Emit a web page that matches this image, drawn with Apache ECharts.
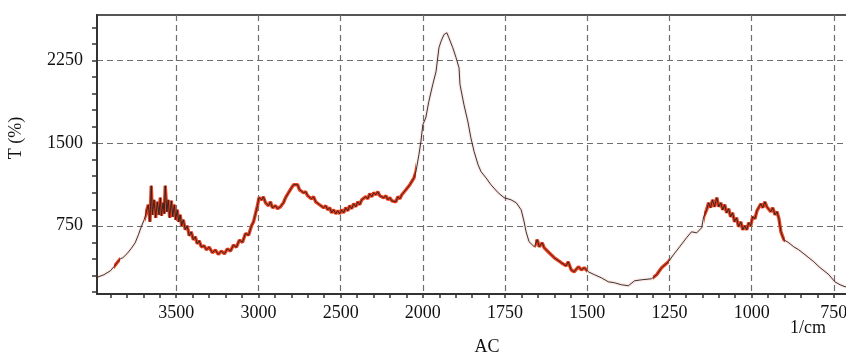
<!DOCTYPE html>
<html>
<head>
<meta charset="utf-8">
<script src="https://cdn.jsdelivr.net/npm/echarts@6/dist/echarts.min.js"></script>
<style>
    html, body { margin: 0; padding: 0; background: #fff; }
    #chart { width: 846px; height: 354px; }
</style>
</head>
<body>
<div id="chart"></div>
<script>
// spectrum: wavenumber (1/cm) -> T
const wavenumber = [
    3990, 3940, 3900, 3880, 3860, 3840, 3825, 3800, 3775, 3750, 3730, 3715, 3695, 3685,
    3670, 3660, 3652, 3645, 3635, 3625, 3615, 3605, 3597, 3590, 3580, 3573, 3567, 3557,
    3549, 3540, 3530, 3521, 3512, 3503, 3494, 3485, 3476, 3467, 3457, 3445, 3433, 3421,
    3409, 3396, 3384, 3372, 3360, 3348, 3330, 3317, 3300, 3280, 3262, 3244, 3226, 3207,
    3189, 3170, 3152, 3134, 3116, 3097, 3079, 3060, 3042, 3030, 3018, 3006, 2997, 2988,
    2979, 2970, 2957, 2939, 2927, 2915, 2896, 2884, 2866, 2848, 2835, 2817, 2799, 2786,
    2774, 2762, 2750, 2738, 2726, 2713, 2701, 2689, 2677, 2665, 2652, 2640, 2628, 2616,
    2604, 2591, 2579, 2567, 2555, 2543, 2530, 2518, 2506, 2494, 2482, 2469, 2457, 2445,
    2433, 2421, 2408, 2396, 2384, 2372, 2360, 2347, 2335, 2323, 2311, 2299, 2286, 2274,
    2262, 2250, 2238, 2225, 2213, 2201, 2189, 2177, 2164, 2152, 2140, 2128, 2116, 2103,
    2091, 2079, 2067, 2054, 2042, 2024, 2012, 2000, 1991, 1982, 1970, 1960, 1951, 1945,
    1936, 1927, 1921, 1909, 1899, 1890, 1887, 1875, 1863, 1854, 1844, 1832, 1823, 1808,
    1793, 1771, 1753, 1732, 1716, 1701, 1692, 1686, 1677, 1661, 1652, 1646, 1637, 1631,
    1616, 1600, 1579, 1564, 1558, 1549, 1540, 1527, 1518, 1509, 1497, 1478, 1457, 1436,
    1417, 1396, 1375, 1356, 1335, 1305, 1289, 1274, 1253, 1238, 1219, 1198, 1183, 1167,
    1152, 1146, 1137, 1131, 1125, 1119, 1113, 1106, 1100, 1094, 1088, 1082, 1076, 1070,
    1064, 1058, 1052, 1046, 1040, 1033, 1027, 1021, 1015, 1009, 1003, 997, 990, 984,
    978, 972, 966, 960, 954, 948, 942, 936, 929, 923, 917, 911, 902, 887,
    872, 857, 841, 826, 811, 795, 780, 765, 747, 731, 716, 707
];
const transmittance = [
    277, 305, 341, 377, 414, 450, 459, 495, 541, 595, 668, 732, 805, 859,
    941, 786, 1114, 850, 986, 823, 968, 850, 1005, 841, 959, 859, 1114, 877,
    986, 823, 977, 832, 941, 805, 895, 786, 850, 750, 805, 714, 750, 659,
    695, 623, 650, 586, 614, 559, 568, 532, 555, 505, 530, 490, 520, 495,
    540, 520, 575, 555, 620, 600, 680, 665, 750, 786, 859, 932, 1005, 1023,
    986, 1014, 959, 932, 968, 914, 932, 905, 923, 959, 1005, 1050, 1095, 1123,
    1105, 1123, 1077, 1086, 1050, 1059, 1023, 1032, 995, 1014, 968, 986, 941, 959,
    914, 932, 895, 914, 868, 895, 859, 886, 859, 895, 868, 914, 886, 932,
    905, 950, 923, 968, 941, 986, 968, 1014, 995, 1041, 1014, 1050, 1032, 1059,
    1023, 1041, 1005, 1023, 986, 1005, 977, 995, 968, 1014, 995, 1032, 1023, 1077,
    1086, 1123, 1141, 1186, 1241, 1395, 1514, 1668, 1732, 1877, 2032, 2150, 2368, 2423,
    2486, 2504, 2459, 2368, 2277, 2186, 2032, 1850, 1695, 1550, 1423, 1304, 1241, 1186,
    1123, 1050, 1005, 986, 959, 895, 786, 695, 605, 559, 623, 559, 595, 550,
    505, 459, 414, 386, 423, 350, 332, 377, 350, 368, 332, 305, 277, 241,
    232, 214, 205, 250, 259, 268, 305, 368, 423, 486, 559, 641, 695, 686,
    732, 832, 895, 959, 914, 986, 923, 1005, 923, 959, 895, 941, 868, 905,
    832, 868, 786, 823, 741, 786, 714, 750, 714, 777, 750, 832, 814, 886,
    868, 950, 914, 968, 923, 941, 877, 914, 850, 877, 814, 695, 623, 595,
    559, 532, 495, 459, 423, 377, 341, 305, 241, 214, 196, 196
];

// 噪声较大、显示为红色的波段 [高, 低] (1/cm)
const noisyBands = [[3880, 3840], [3690, 2040], [1660, 1500], [1300, 1250], [1145, 900]];

const xLabels = [3500, 3000, 2500, 2000, 1750, 1500, 1250, 1000, 750];
const yLabels = [750, 1500, 2250];

// 仪器在 2000 1/cm 以上压缩了一半的刻度
const toAxis = w => w > 2000 ? 2000 + (w - 2000) / 2 : w;
const fromAxis = u => u > 2000 ? 2000 + (u - 2000) * 2 : u;

const xMin = 707, xMax = 2991;
const yMin = 130, yMax = 2665;

const xMinor = [];
for (let u = 750; u < xMax; u += 50) xMinor.push(u);
const yMinor = [];
for (let v = 150; v < yMax; v += 150) yMinor.push(v);

const points = wavenumber.map((w, i) => [toAxis(w), transmittance[i]]);

const font = { fontFamily: 'Liberation Serif', fontSize: 18, color: '#111' };
const gridLine = { color: '#6e6e6e', type: [6, 4], width: 1.2 };
const red = '#ef3f1c';

const chart = echarts.init(document.getElementById('chart'), null, { renderer: 'canvas' });

chart.setOption({
    animation: false,
    backgroundColor: '#fff',
    grid: {
        left: 97, right: -2, top: 15, bottom: 60,
        show: true, borderColor: '#555', borderWidth: 2,
        outerBoundsMode: 'none'
    },
    visualMap: {
        type: 'piecewise',
        show: false,
        seriesIndex: 0,
        dimension: 0,
        pieces: noisyBands.map(([hi, lo]) => ({ gte: toAxis(lo), lte: toAxis(hi), color: red })),
        outOfRange: { color: 'rgba(239,63,28,0.12)' }
    },
    xAxis: [
        {
            type: 'value', inverse: true, min: xMin, max: xMax,
            axisLine: { show: true, onZero: false, lineStyle: { color: '#333', width: 2 } },
            axisTick: { show: true, length: 4, customValues: xMinor, lineStyle: { color: '#333', width: 1.5 } },
            axisLabel: {
                ...font, margin: 10,
                customValues: xLabels.map(toAxis),
                formatter: v => String(Math.round(fromAxis(v)))
            },
            splitLine: { show: false }
        },
        {
            type: 'value', inverse: true, min: xMin, max: xMax,
            axisLine: { show: false },
            axisTick: { show: false, customValues: xLabels.map(toAxis) },
            axisLabel: { show: false },
            splitLine: { show: true, lineStyle: gridLine }
        }
    ],
    yAxis: [
        {
            type: 'value', min: yMin, max: yMax,
            axisLine: { show: true, onZero: false, lineStyle: { color: '#333', width: 2 } },
            axisTick: { show: true, length: 5, customValues: yMinor, lineStyle: { color: '#333', width: 1.5 } },
            axisLabel: { ...font, margin: 14, customValues: yLabels, formatter: v => String(v) },
            splitLine: { show: false }
        },
        {
            type: 'value', min: yMin, max: yMax,
            axisLine: { show: false },
            axisTick: { show: false, customValues: yLabels },
            axisLabel: { show: false },
            splitLine: { show: true, lineStyle: gridLine }
        }
    ],
    series: [
        {
            name: 'T red',
            type: 'line',
            data: points,
            showSymbol: false,
            lineStyle: { width: 3.4 },
            z: 3
        },
        {
            name: 'T',
            type: 'line',
            data: points,
            showSymbol: false,
            lineStyle: { color: '#222', width: 0.9 },
            z: 4
        }
    ],
    graphic: [
        {
            type: 'text', x: 16, y: 138, rotation: Math.PI / 2,
            style: { text: 'T (%)', fill: '#111', font: '18px "Liberation Serif"', align: 'center', verticalAlign: 'middle' }
        },
        {
            type: 'text', x: 487, y: 347,
            style: { text: 'AC', fill: '#111', font: '18px "Liberation Serif"', align: 'center', verticalAlign: 'middle' }
        },
        {
            type: 'text', x: 808, y: 328,
            style: { text: '1/cm', fill: '#111', font: '18px "Liberation Serif"', align: 'center', verticalAlign: 'middle' }
        }
    ]
});
</script>
</body>
</html>
